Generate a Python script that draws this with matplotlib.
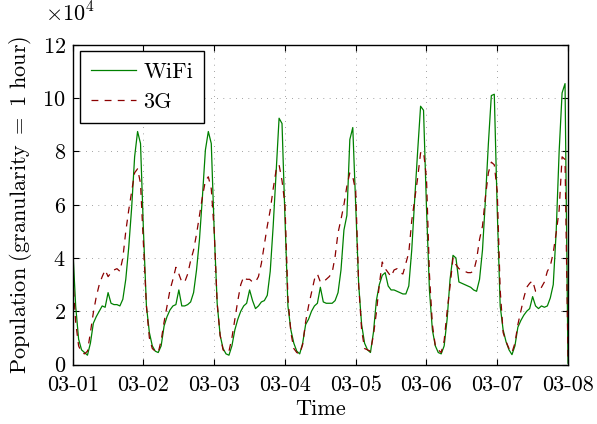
import numpy as np
import pandas as pd
import matplotlib
matplotlib.use("Agg")
import matplotlib.pyplot as plt
import matplotlib.dates as mdates

plt.rcParams['font.family'] = 'serif'
plt.rcParams['font.serif'] = ['cmr10']
plt.rcParams['mathtext.fontset'] = 'cm'
plt.rcParams['axes.formatter.use_mathtext'] = True
plt.rcParams['font.size'] = 16

# hourly population, in units of 10^4, one list per day (hour 0..23)
wifi_d1 = [4.4, 2.2, 0.95, 0.55, 0.45, 0.35, 0.8, 1.55, 1.8, 2.0, 2.2, 2.15, 2.7, 2.3, 2.25, 2.25, 2.2, 2.45, 3.2, 4.4, 5.9, 7.8, 8.75, 8.3]
wifi_d2 = [5.0, 2.2, 1.2, 0.7, 0.5, 0.45, 0.7, 1.45, 1.8, 2.05, 2.2, 2.25, 2.8, 2.2, 2.2, 2.25, 2.35, 2.7, 3.55, 4.7, 6.3, 8.05, 8.75, 8.3]
wifi_d3 = [5.0, 2.3, 1.1, 0.6, 0.4, 0.35, 0.7, 1.3, 1.7, 2.0, 2.2, 2.3, 2.8, 2.4, 2.1, 2.2, 2.35, 2.4, 2.6, 3.5, 5.2, 7.2, 9.25, 9.05]
wifi_d4 = [5.5, 2.2, 1.3, 0.8, 0.5, 0.4, 0.8, 1.5, 1.7, 2.0, 2.2, 2.3, 2.9, 2.35, 2.3, 2.3, 2.3, 2.4, 2.7, 3.55, 5.05, 5.6, 8.45, 8.9]
wifi_d5 = [6.0, 3.0, 1.5, 0.8, 0.55, 0.45, 1.2, 2.4, 3.0, 3.35, 3.45, 2.95, 2.8, 2.8, 2.75, 2.7, 2.65, 2.65, 2.95, 4.3, 6.2, 8.0, 9.7, 9.55]
wifi_d6 = [5.9, 2.8, 1.3, 0.7, 0.45, 0.4, 0.7, 1.7, 3.2, 4.1, 4.0, 3.1, 3.05, 3.0, 2.95, 2.9, 2.8, 2.75, 3.2, 4.3, 6.2, 8.3, 10.1, 10.15]
wifi_d7 = [5.8, 2.2, 1.3, 0.85, 0.55, 0.37, 0.7, 1.4, 1.65, 1.85, 2.0, 2.1, 2.55, 2.2, 2.1, 2.2, 2.15, 2.2, 2.5, 3.0, 5.0, 8.0, 10.2, 10.55]
wifi_end = [0.05]

g3_d1 = [3.3, 1.6, 0.7, 0.45, 0.4, 0.5, 1.2, 1.95, 2.55, 3.0, 3.3, 3.55, 3.3, 3.45, 3.55, 3.6, 3.5, 4.0, 5.0, 5.8, 6.5, 7.2, 7.35, 6.8]
g3_d2 = [4.5, 2.2, 1.0, 0.6, 0.5, 0.45, 0.9, 1.6, 2.2, 2.8, 3.2, 3.65, 3.4, 3.1, 3.1, 3.4, 3.9, 4.3, 4.9, 5.6, 6.3, 6.9, 7.05, 6.6]
g3_d3 = [5.0, 2.3, 1.1, 0.55, 0.45, 0.5, 1.0, 1.7, 2.4, 3.0, 3.3, 3.2, 3.2, 3.1, 3.1, 3.3, 3.8, 4.5, 5.2, 5.8, 6.6, 7.3, 7.5, 6.9]
g3_d4 = [6.0, 2.5, 1.2, 0.6, 0.45, 0.4, 0.75, 1.6, 2.2, 2.7, 3.2, 3.4, 3.1, 3.1, 3.2, 3.3, 3.45, 4.05, 4.95, 5.45, 6.0, 6.7, 7.2, 7.05]
g3_d5 = [6.5, 3.0, 1.3, 0.6, 0.55, 0.5, 1.1, 1.95, 3.0, 3.85, 3.6, 3.45, 3.3, 3.55, 3.6, 3.45, 3.4, 3.8, 4.2, 5.4, 6.2, 7.0, 7.95, 8.0]
g3_d6 = [7.0, 3.4, 1.5, 0.7, 0.55, 0.45, 0.9, 2.0, 2.95, 4.0, 3.75, 3.6, 3.55, 3.5, 3.45, 3.45, 3.5, 3.95, 4.7, 5.2, 6.3, 7.2, 7.6, 7.5]
g3_d7 = [6.5, 2.8, 1.2, 0.86, 0.6, 0.45, 0.8, 1.5, 2.0, 2.5, 2.9, 3.05, 3.15, 2.75, 2.8, 2.9, 3.1, 3.5, 3.7, 4.2, 4.95, 5.8, 7.8, 7.7]
g3_end = [0.3]

wifi = wifi_d1 + wifi_d2 + wifi_d3 + wifi_d4 + wifi_d5 + wifi_d6 + wifi_d7 + wifi_end
g3 = g3_d1 + g3_d2 + g3_d3 + g3_d4 + g3_d5 + g3_d6 + g3_d7 + g3_end
times = pd.date_range("2014-03-01 00:00", periods=len(wifi), freq="h")

fig = plt.figure(figsize=(5.97, 4.24), dpi=100)
ax = fig.add_axes([0.1218, 0.1403, 0.8296, 0.7536])

ax.plot(times, wifi, color='#008000', lw=0.9, label='WiFi')
ax.plot(times, g3, color='#8b0000', lw=0.9, dashes=(5.5, 5), label='3G')

ax.set_xlim(pd.Timestamp("2014-03-01"), pd.Timestamp("2014-03-08"))
ax.set_ylim(0, 12)
ax.set_yticks(np.arange(0, 13, 2))
ax.xaxis.set_major_locator(mdates.DayLocator())
ax.xaxis.set_major_formatter(mdates.DateFormatter('%m-%d'))

# scale factor shown above the y axis
fig.text(45 / 597, 1 - 22 / 424, r'$\times10^4$', ha='left', va='baseline')

ax.tick_params(direction='in', top=True, right=True, length=4, width=0.8, pad=5)
ax.tick_params(axis='x', pad=8)
ax.grid(True, color='k', lw=0.5, alpha=0.7, linestyle=(0, (1, 8)))
for s in ax.spines.values():
    s.set_linewidth(1.0)

ax.set_xlabel('Time', labelpad=3)
ax.set_ylabel(r'$\mathrm{Population\ (granularity\ =\ 1\ hour)}$', labelpad=6)

leg = ax.legend(loc='upper left', bbox_to_anchor=(0.015, 0.98), borderaxespad=0,
                fancybox=False, edgecolor='k', framealpha=1, handlelength=2.0,
                borderpad=0.5, labelspacing=0.45, handletextpad=0.35)
leg.get_frame().set_linewidth(1.0)

fig.savefig('out.png', dpi=100)
